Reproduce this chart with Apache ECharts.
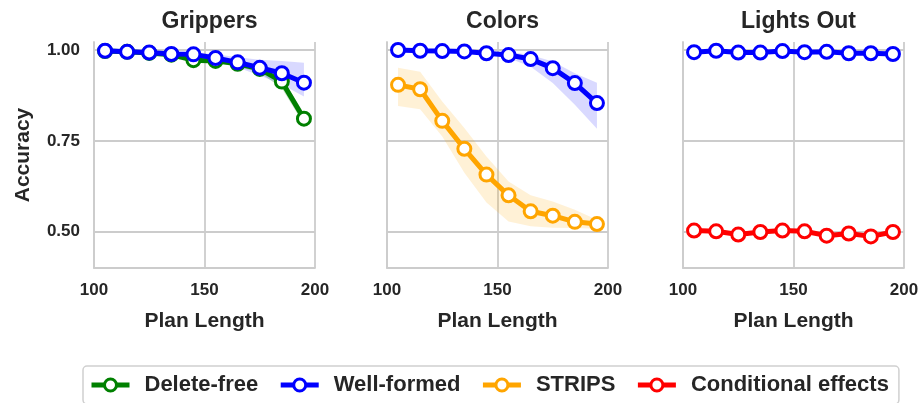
<!DOCTYPE html>
<html>
<head>
<meta charset="utf-8">
<script src="https://cdn.jsdelivr.net/npm/echarts@6/dist/echarts.min.js"></script>
<style>
html,body{margin:0;padding:0;background:#fff;}
#chart{width:922px;height:403px;}
</style>
</head>
<body>
<div id="chart"></div>
<script>
// ---------- data ----------
const planLengths = [105, 115, 125, 135, 145, 155, 165, 175, 185, 195];
const panelTitles = ['Grippers', 'Colors', 'Lights Out'];
const xTickLabels = [100, 150, 200];
const yTickLabels = [0.50, 0.75, 1.00];

// Grippers
const grippersDeleteFree   = [0.997, 0.995, 0.992, 0.987, 0.972, 0.970, 0.962, 0.948, 0.913, 0.811];
const grippersDeleteFreeLo = [0.994, 0.992, 0.989, 0.983, 0.966, 0.964, 0.954, 0.938, 0.895, 0.795];
const grippersDeleteFreeHi = [1.000, 0.998, 0.995, 0.991, 0.978, 0.976, 0.970, 0.958, 0.925, 0.825];
const grippersWellFormed   = [0.998, 0.995, 0.993, 0.989, 0.988, 0.978, 0.966, 0.951, 0.936, 0.910];
const grippersWellFormedLo = [0.996, 0.992, 0.990, 0.985, 0.983, 0.968, 0.952, 0.930, 0.905, 0.872];
const grippersWellFormedHi = [1.000, 0.998, 0.996, 0.993, 0.993, 0.988, 0.980, 0.973, 0.970, 0.965];

// Colors
const colorsWellFormed   = [1.000, 0.998, 0.997, 0.996, 0.991, 0.986, 0.975, 0.950, 0.909, 0.854];
const colorsWellFormedLo = [0.999, 0.996, 0.995, 0.993, 0.987, 0.978, 0.954, 0.909, 0.849, 0.783];
const colorsWellFormedHi = [1.000, 1.000, 0.999, 0.998, 0.995, 0.995, 0.986, 0.968, 0.936, 0.910];
const colorsStrips   = [0.904, 0.892, 0.805, 0.728, 0.657, 0.600, 0.556, 0.544, 0.527, 0.521];
const colorsStripsLo = [0.846, 0.837, 0.762, 0.662, 0.580, 0.528, 0.515, 0.511, 0.510, 0.508];
const colorsStripsHi = [0.951, 0.940, 0.858, 0.785, 0.707, 0.638, 0.600, 0.583, 0.560, 0.533];

// Lights Out
const lightsWellFormed   = [0.994, 0.998, 0.993, 0.993, 0.997, 0.994, 0.995, 0.991, 0.991, 0.989];
const lightsWellFormedLo = [0.992, 0.996, 0.991, 0.991, 0.995, 0.992, 0.993, 0.989, 0.989, 0.987];
const lightsWellFormedHi = [0.996, 1.000, 0.995, 0.995, 0.999, 0.996, 0.997, 0.993, 0.993, 0.991];
const lightsCondEffects   = [0.503, 0.501, 0.492, 0.499, 0.503, 0.501, 0.489, 0.495, 0.487, 0.499];
const lightsCondEffectsLo = [0.499, 0.497, 0.488, 0.495, 0.499, 0.497, 0.485, 0.491, 0.483, 0.495];
const lightsCondEffectsHi = [0.507, 0.505, 0.496, 0.503, 0.507, 0.505, 0.493, 0.499, 0.491, 0.503];

const seriesNames = ['Delete-free', 'Well-formed', 'STRIPS', 'Conditional effects'];
const seriesColors = {
  'Delete-free': '#008000',
  'Well-formed': '#0000ff',
  'STRIPS': '#ffa500',
  'Conditional effects': '#ff0000'
};
const bandColors = {
  'Delete-free': 'rgba(0,128,0,0.22)',
  'Well-formed': 'rgba(0,0,255,0.15)',
  'STRIPS': 'rgba(255,165,0,0.16)',
  'Conditional effects': 'rgba(255,0,0,0.15)'
};

const panels = [
  [ ['Delete-free', grippersDeleteFree, grippersDeleteFreeLo, grippersDeleteFreeHi],
    ['Well-formed', grippersWellFormed, grippersWellFormedLo, grippersWellFormedHi] ],
  [ ['Well-formed', colorsWellFormed, colorsWellFormedLo, colorsWellFormedHi],
    ['STRIPS', colorsStrips, colorsStripsLo, colorsStripsHi] ],
  [ ['Well-formed', lightsWellFormed, lightsWellFormedLo, lightsWellFormedHi],
    ['Conditional effects', lightsCondEffects, lightsCondEffectsLo, lightsCondEffectsHi] ]
];

// ---------- layout ----------
const FONT = '"Liberation Sans", Arial, sans-serif';
const TXT = '#262626';
const GRIDC = '#cccccc';
const NONE = 'rgba(0,0,0,0)';
const gridLefts = [94, 387, 683];
const gridW = 221, gridTop = 42, gridH = 226;

const grids = [], xAxes = [], yAxes = [], titles = [], series = [];
const isTick = v => yTickLabels.some(t => Math.abs(t - v) < 1e-6);

function bandRender(color) {
  return function (params, api) {
    if (params.dataIndexInside !== 0) return null;
    const n = params.dataInsideLength;
    const up = [], dn = [];
    for (let j = 0; j < n; j++) {
      up.push(api.coord([api.value(0, j), api.value(2, j)]));
      dn.push(api.coord([api.value(0, j), api.value(1, j)]));
    }
    return {
      type: 'polygon',
      shape: {points: up.concat(dn.reverse())},
      style: {fill: color, stroke: null}
    };
  };
}

panels.forEach((panel, i) => {
  grids.push({left: gridLefts[i], top: gridTop, width: gridW, height: gridH, containLabel: false});
  titles.push({
    text: panelTitles[i], left: gridLefts[i] + gridW / 2, top: 5, textAlign: 'center',
    textStyle: {fontFamily: FONT, fontSize: 23, fontWeight: 'bold', color: TXT}
  });
  xAxes.push({
    type: 'value', gridIndex: i, min: xTickLabels[0], max: xTickLabels[xTickLabels.length - 1],
    interval: xTickLabels[1] - xTickLabels[0],
    name: 'Plan Length', nameLocation: 'middle', nameGap: 43,
    nameTextStyle: {fontFamily: FONT, fontSize: 21, fontWeight: 'bold', color: TXT},
    axisLine: {show: true, lineStyle: {color: GRIDC, width: 1.8}},
    axisTick: {show: false},
    axisLabel: {fontFamily: FONT, fontSize: 17, fontWeight: 'bold', color: TXT, margin: 14,
      showMinLabel: true, showMaxLabel: true},
    splitLine: {show: true, lineStyle: {color: GRIDC, width: 1.8}}
  });
  yAxes.push({
    type: 'value', gridIndex: i, min: 0.4, max: 1.022, interval: 0.05,
    name: i === 0 ? 'Accuracy' : '', nameLocation: 'middle', nameGap: 60,
    nameTextStyle: {fontFamily: FONT, fontSize: 21, fontWeight: 'bold', color: TXT},
    axisLine: {show: true, lineStyle: {color: GRIDC, width: 1.8}},
    axisTick: {show: false},
    axisLabel: {show: i === 0, fontFamily: FONT, fontSize: 17, fontWeight: 'bold', color: TXT, margin: 14,
      formatter: v => isTick(v) ? v.toFixed(2) : ''},
    splitLine: {show: true, lineStyle: {color: [NONE, NONE, GRIDC, NONE, NONE], width: 1.8}}
  });

  // confidence bands
  panel.forEach(([name, vals, lo, hi], k) => {
    series.push({
      type: 'custom', name: '_band' + i + k, xAxisIndex: i, yAxisIndex: i,
      silent: true, z: 1,
      dimensions: ['x', 'lo', 'hi'],
      encode: {x: 0, y: [1, 2]},
      data: planLengths.map((x, j) => [x, lo[j], hi[j]]),
      renderItem: bandRender(bandColors[name])
    });
  });
  // lines
  panel.forEach(([name, vals], k) => {
    series.push({
      type: 'line', name: name, xAxisIndex: i, yAxisIndex: i,
      data: planLengths.map((x, j) => [x, vals[j]]),
      symbol: 'circle', symbolSize: 13,
      lineStyle: {color: seriesColors[name], width: 5},
      itemStyle: {color: '#ffffff', borderColor: seriesColors[name], borderWidth: 3},
      z: 3 + k
    });
  });
});

const chart = echarts.init(document.getElementById('chart'), null, {renderer: 'canvas'});
chart.setOption({
  animation: false,
  backgroundColor: '#ffffff',
  title: titles,
  grid: grids,
  xAxis: xAxes,
  yAxis: yAxes,
  legend: {
    data: seriesNames,
    left: 83, top: 366,
    orient: 'horizontal',
    padding: [8, 10, 8, 6],
    itemGap: 20,
    itemWidth: 38, itemHeight: 15,
    lineStyle: {width: 5},
    itemStyle: {borderWidth: 3},
    borderColor: '#d0d0d0', borderWidth: 1.5, borderRadius: 4,
    backgroundColor: '#ffffff',
    selectedMode: false,
    textStyle: {fontFamily: FONT, fontSize: 22, fontWeight: 'bold', color: TXT, padding: [0, 0, 0, 10]}
  },
  series: series
});
</script>
</body>
</html>
